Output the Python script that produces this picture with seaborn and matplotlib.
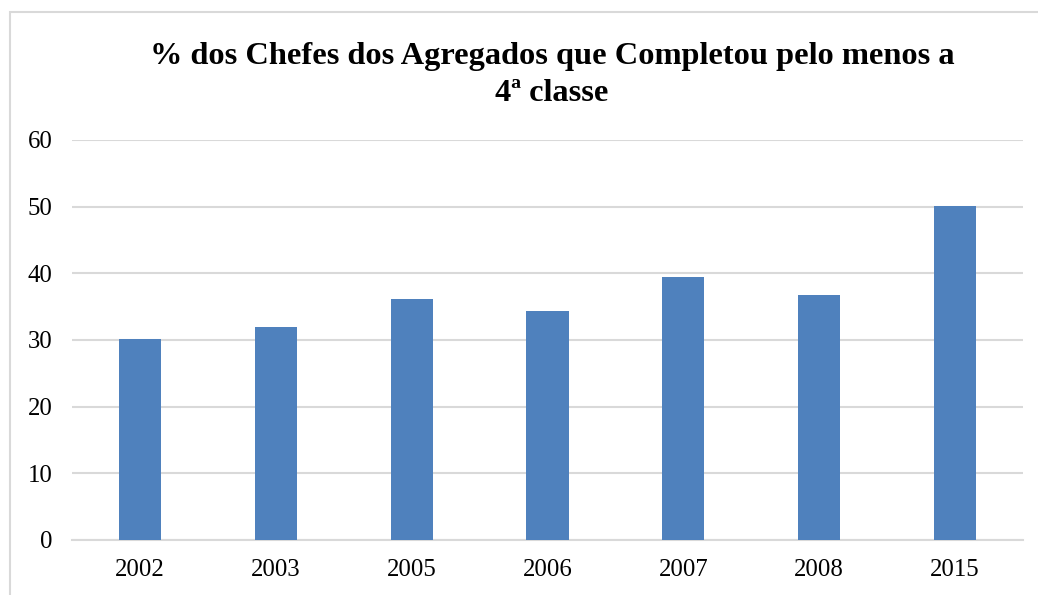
import matplotlib
matplotlib.use("Agg")
import matplotlib.pyplot as plt
import seaborn as sns
import pandas as pd
from matplotlib.patches import Rectangle

years = ["2002", "2003", "2005", "2006", "2007", "2008", "2015"]
values = [30.2, 32.0, 36.2, 34.3, 39.5, 36.7, 50.1]
yticks = [0, 10, 20, 30, 40, 50, 60]
title = "% dos Chefes dos Agregados que Completou pelo menos a\n4ª classe"

sns.set_style("white")
plt.rcParams['font.family'] = ['Liberation Serif', 'DejaVu Serif']
plt.rcParams['text.color'] = 'black'

W, H = 1038, 595
fig = plt.figure(figsize=(W / 100, H / 100), dpi=100)
ax = fig.add_axes([72 / W, 1 - 540 / H, (1023 - 72) / W, (540 - 140) / H])

df = pd.DataFrame({"year": years, "value": values})
sns.barplot(data=df, x="year", y="value", color="#4F81BD", saturation=1,
            width=0.31, ax=ax, zorder=3, edgecolor="#4F81BD", linewidth=0)

ax.set_ylim(0, 60)
ax.set_xlim(-0.5, len(years) - 0.5)
ax.set_yticks(yticks)
ax.set_yticklabels([str(t) for t in yticks])
ax.yaxis.grid(True, color="#D9D9D9", linewidth=1.5, zorder=0)
ax.xaxis.grid(False)
ax.set_axisbelow(True)
for s in ["top", "right", "left"]:
    ax.spines[s].set_visible(False)
ax.spines["bottom"].set_color("#D9D9D9")
ax.spines["bottom"].set_linewidth(1.5)
ax.tick_params(axis="both", length=0, labelsize=17.8, colors="black")
ax.tick_params(axis="y", pad=14)
ax.tick_params(axis="x", pad=14)
ax.set_xlabel("")
ax.set_ylabel("")

fig.text(552 / W, 1 - 75 / H, title, ha="center", va="center",
         fontsize=23.3, fontweight="bold", linespacing=1.36, color="black")

# outer chart border (only top/left visible in reference)
fig.patches.append(Rectangle((10 / W, -0.1), 1.2, 1 - 12 / H + 0.1,
                             transform=fig.transFigure, fill=False,
                             edgecolor="#D9D9D9", linewidth=1.5))

fig.savefig("out.png", dpi=100)
